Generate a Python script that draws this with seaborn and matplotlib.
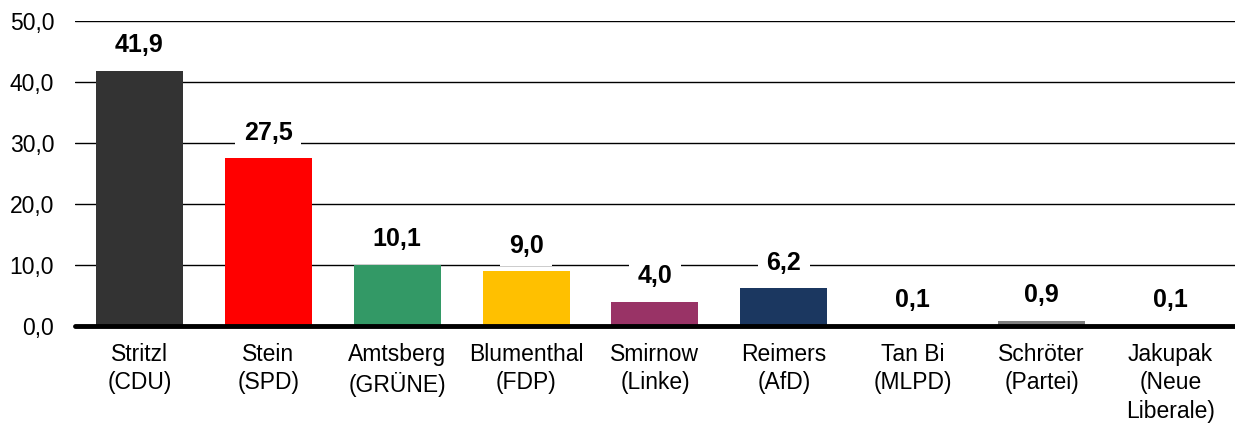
import matplotlib
matplotlib.use("Agg")
import matplotlib.pyplot as plt
import seaborn as sns
import pandas as pd

candidates = ["Stritzl\n(CDU)", "Stein\n(SPD)", "Amtsberg\n(GRÜNE)", "Blumenthal\n(FDP)",
              "Smirnow\n(Linke)", "Reimers\n(AfD)", "Tan Bi\n(MLPD)", "Schröter\n(Partei)",
              "Jakupak\n(Neue\nLiberale)"]
values = [41.9, 27.5, 10.1, 9.0, 4.0, 6.2, 0.1, 0.9, 0.1]
colors = ["#333333", "#FF0000", "#339966", "#FFC000", "#993366", "#1B3760",
          "#7F7F7F", "#7F7F7F", "#7F7F7F"]
yticks = [0, 10, 20, 30, 40, 50]

sns.set_theme(style="white")
plt.rcParams['font.family'] = ['Liberation Sans', 'DejaVu Sans']

df = pd.DataFrame({"cand": candidates, "val": values})

fig = plt.figure(figsize=(12.35, 4.23), dpi=100)
ax = fig.add_axes([0.0607, 0.229, 0.9393, 0.721])

sns.barplot(data=df, x="cand", y="val", hue="cand", palette=colors, legend=False,
            width=0.675, saturation=1, linewidth=0, ax=ax, zorder=3)

ax.set_ylim(0, 50)
ax.set_xlim(-0.5, len(candidates) - 0.5)
ax.set_yticks(yticks)
ax.set_yticklabels([f"{t:.1f}".replace(".", ",") for t in yticks], fontsize=16.5, color="black")
ax.tick_params(axis="x", labelsize=16.5, colors="black", length=0, pad=12)
ax.tick_params(axis="y", length=0, pad=15)
plt.setp(ax.get_xticklabels(), linespacing=1.3)
ax.set_xlabel("")
ax.set_ylabel("")

for t in yticks[1:]:
    ax.axhline(t, color="black", linewidth=1.0, zorder=1)
ax.axhline(0, color="black", linewidth=3.5, zorder=4, clip_on=False)

for s in ax.spines.values():
    s.set_visible(False)

for i, v in enumerate(values):
    ax.annotate(f"{v:.1f}".replace(".", ","), xy=(i, v), xytext=(0, 18.5),
                textcoords="offset points", ha="center", va="center",
                fontsize=18, fontweight="bold", color="black", zorder=5,
                bbox=dict(boxstyle="square,pad=0.35", facecolor="white", edgecolor="none"))

fig.savefig("out.png", dpi=100, facecolor="white")
